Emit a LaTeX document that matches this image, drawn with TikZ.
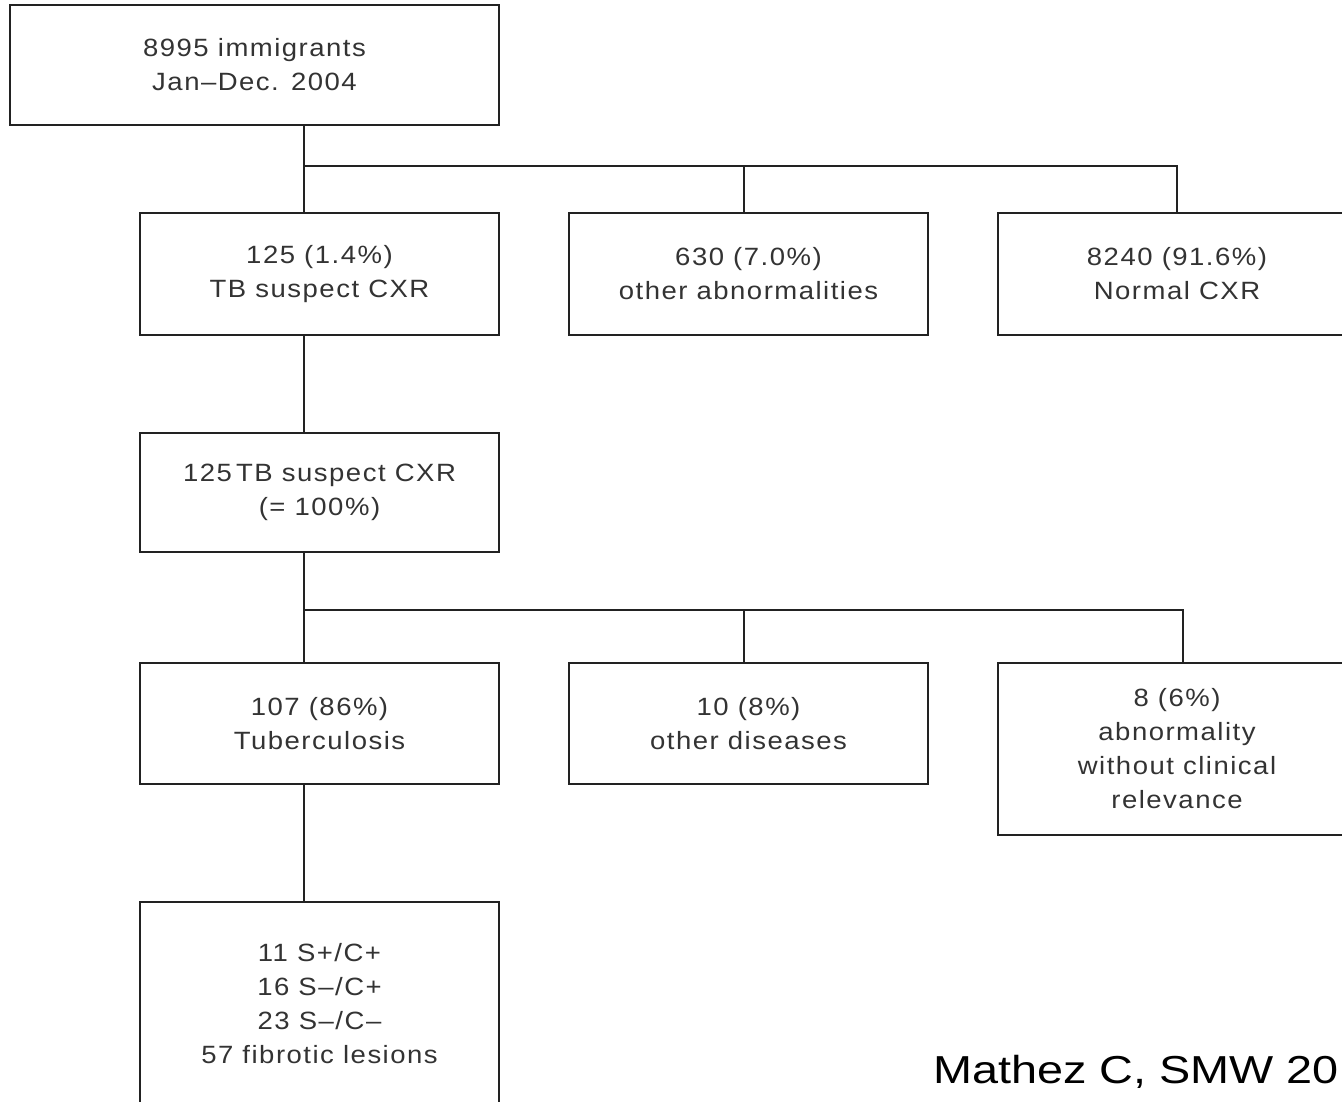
\documentclass[tikz,border=0pt]{standalone}
\usepackage{fontspec}
\setmainfont{Liberation Sans}[FakeStretch=1.1, LetterSpace=6]
\newfontfamily\citefont{Liberation Sans}[FakeStretch=1.2]
\usetikzlibrary{positioning}

\definecolor{linegray}{HTML}{222222}
\definecolor{textgray}{HTML}{333333}

\tikzset{
    box/.style={draw=linegray, line width=2.6pt, rectangle, align=center, outer sep=0pt,
        inner sep=0pt, minimum width=359pt, minimum height=121pt, text=textgray,
        font=\fontsize{25}{34}\selectfont},
    link/.style={draw=linegray, line width=2.4pt}
}

\begin{document}
\begin{tikzpicture}[x=1pt, y=-1pt]
    \path[use as bounding box] (0, 0) rectangle (1342, 1102);
    \clip (0, 0) rectangle (1342, 1102);

    \node (top) [box, anchor=north west, minimum width=489pt, minimum height=120pt] at (10, 5) {8995 immigrants\\Jan--Dec. 2004};
    \node (tbs) [box, anchor=north west, minimum height=122pt] at (140, 213) {125 (1.4\%)\\TB suspect CXR};
    \node (oth) [box, minimum height=122pt, right=70pt of tbs] {630 (7.0\%)\\other abnormalities};
    \node (norm) [box, minimum height=122pt, minimum width=358pt, right=70pt of oth] {8240 (91.6\%)\\Normal CXR};
    \node (tbs2) [box, minimum height=119pt, below=98pt of tbs] {125\,TB suspect CXR\\(= 100\%)};
    \node (tub) [box, below=111pt of tbs2] {107 (86\%)\\Tuberculosis};
    \node (dis) [box, right=70pt of tub] {10 (8\%)\\other diseases};
    \node (irr) [box, minimum width=358pt, minimum height=172pt, right=70pt of dis.north east, anchor=north west] {8 (6\%)\\abnormality\\without clinical\\relevance};
    \node (res) [box, minimum height=204pt, below=118pt of tub] {11 S+/C+\\16 S--/C+\\23 S--/C--\\57 fibrotic lesions};
    \node (cite) [anchor=base west, inner sep=0pt, font=\citefont\fontsize{39}{44}\selectfont] at (933, 1083) {Mathez C, SMW 20};

    % first split
    \coordinate (split1) at (304, 166);
    \draw [link] (top.south -| split1) -- (tbs.north -| split1);
    \draw [link] (split1) -| (norm.north);
    \draw [link] (split1 -| oth.north) ++(-4.5, 0) -- ([xshift=-4.5pt]oth.north);
    \draw [link] (tbs.south -| split1) -- (tbs2.north -| split1);

    % second split
    \coordinate (split2) at (304, 610);
    \draw [link] (tbs2.south -| split2) -- (tub.north -| split2);
    \draw [link] (split2) -| ([xshift=6pt]irr.north);
    \draw [link] (split2 -| dis.north) ++(-4.5, 0) -- ([xshift=-4.5pt]dis.north);
    \draw [link] (tub.south -| split2) -- (res.north -| split2);
\end{tikzpicture}
\end{document}
